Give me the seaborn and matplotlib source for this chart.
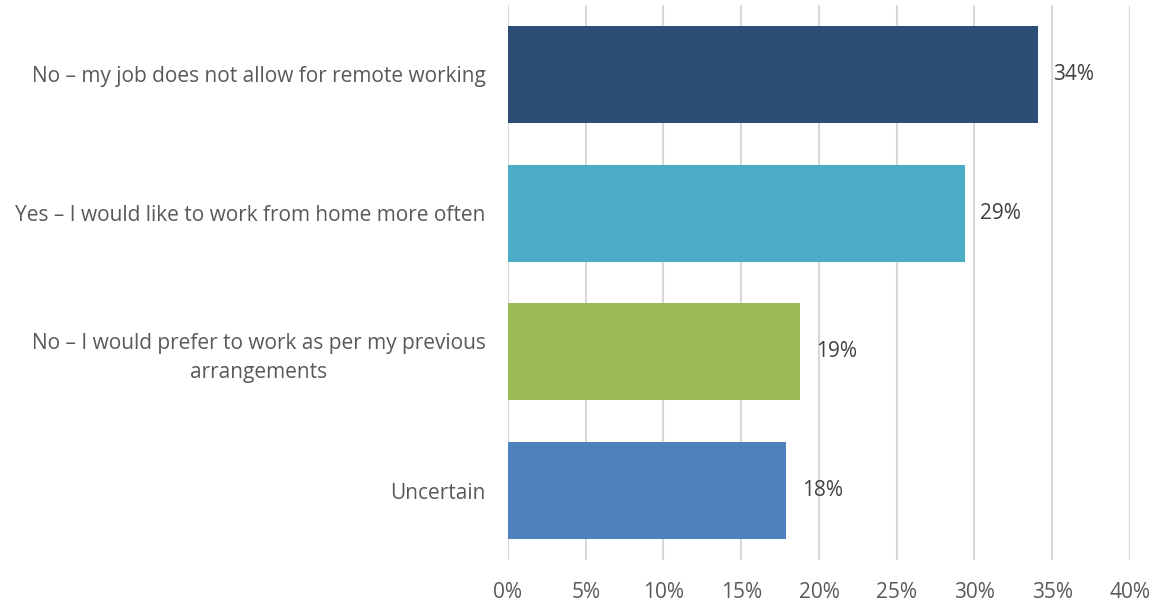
import matplotlib
matplotlib.use("Agg")
import matplotlib.pyplot as plt
import seaborn as sns
import pandas as pd
from matplotlib.ticker import MultipleLocator, FuncFormatter

categories = [
    "No – my job does not allow for remote working",
    "Yes – I would like to work from home more often",
    "No – I would prefer to work as per my previous\narrangements",
    "Uncertain",
]
values = [34.1, 29.4, 18.8, 17.9]
value_labels = ["34%", "29%", "19%", "18%"]
colors = ["#2C4D75", "#4BACC6", "#9BBB59", "#4F81BD"]

sns.set_theme(style="white")
plt.rcParams["font.family"] = ["Open Sans", "DejaVu Sans"]

df = pd.DataFrame({"category": categories, "value": values})

fig = plt.figure(figsize=(11.63, 6.03), dpi=100)
ax = fig.add_axes([0.4368, 0.0713, 0.5348, 0.9204])

sns.barplot(data=df, x="value", y="category", hue="category", palette=colors,
            order=categories, hue_order=categories, width=0.7, legend=False,
            saturation=1, linewidth=0, ax=ax, zorder=3)

ax.set_xlim(0, 40)
ax.xaxis.set_major_locator(MultipleLocator(5))
ax.xaxis.set_major_formatter(FuncFormatter(lambda v, p: f"{v:.0f}%"))
ax.grid(axis="x", color="#D9D9D9", linewidth=1.5, zorder=0)
ax.set_axisbelow(True)
for s in ax.spines.values():
    s.set_visible(False)
ax.set_xlabel("")
ax.set_ylabel("")
ax.tick_params(axis="both", length=0, labelsize=15, labelcolor="#595959")
ax.tick_params(axis="x", pad=16)
ax.tick_params(axis="y", pad=16)
for lbl in ax.get_yticklabels():
    lbl.set_multialignment("center")
    lbl.set_linespacing(1.45)

for i, (v, t) in enumerate(zip(values, value_labels)):
    ax.annotate(t, xy=(v, i), xytext=(11, 0), textcoords="offset points",
                ha="left", va="center", fontsize=15, color="#404040")

fig.savefig("out.png", dpi=100, facecolor="white")
